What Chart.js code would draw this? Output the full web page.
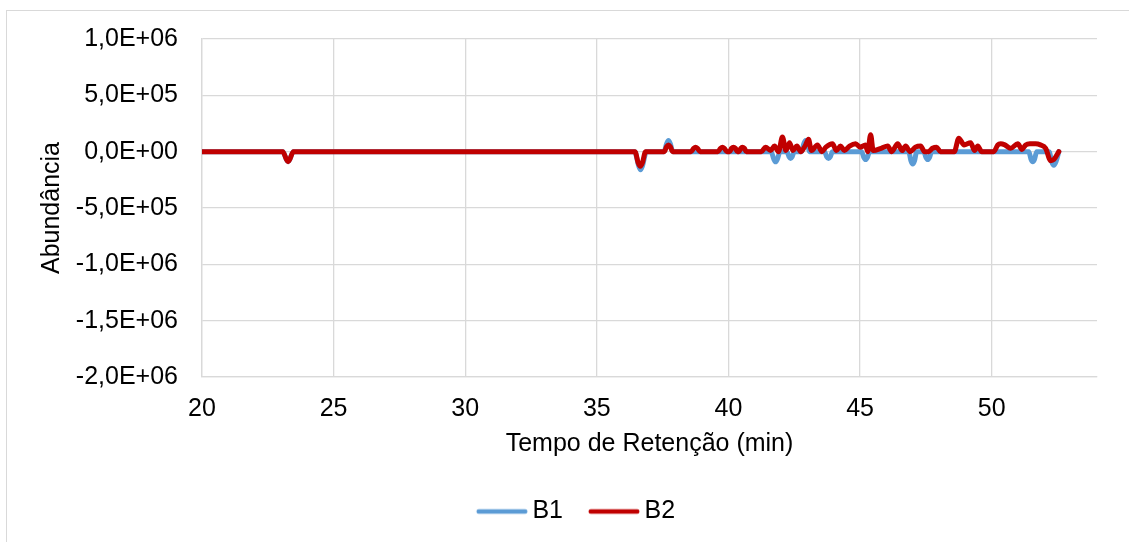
<!DOCTYPE html>
<html>
<head>
<meta charset="utf-8">
<script src="https://cdn.jsdelivr.net/npm/chart.js@4"></script>
<style>
  html, body { margin: 0; padding: 0; background: #fff; overflow: hidden; }
  #frame { position: absolute; left: 6px; top: 10px; width: 1300px; height: 700px; border: 1px solid #d9d9d9; }
  #wrap { position: absolute; left: 0; top: 0; width: 1129px; height: 542px; }
</style>
</head>
<body>
<div id="frame"></div>
<div id="wrap"><canvas id="chart"></canvas></div>
<script>
// ---------- DATA ----------

// B1 (blue)
const b1Time = [20,
  23.07, 23.2, 23.27, 23.34, 23.47,
  36.44, 36.58, 36.66, 36.74, 36.88,
  37.55, 37.65, 37.72, 37.79, 37.89,
  41.62, 41.72, 41.79, 41.86, 41.96,
  42.22, 42.3, 42.36, 42.42, 42.5,
  42.78, 42.86, 42.93, 43.0, 43.08,
  43.65, 43.73, 43.8, 43.87, 43.95,
  45.06, 45.14, 45.21, 45.28, 45.36,
  46.85, 46.93, 47.0, 47.07, 47.15,
  47.42, 47.5, 47.57, 47.64, 47.72,
  51.41, 51.49, 51.56, 51.63, 51.71,
  52.18, 52.28, 52.36, 52.44, 52.55];
const b1Abund = [0,
  0, -6.5e4, -9e4, -6.5e4, 0,
  0, -1.2e5, -1.6e5, -1.2e5, 0,
  0, 7e4, 1.0e5, 7e4, 0,
  0, -6.5e4, -9e4, -6.5e4, 0,
  0, -4.5e4, -6e4, -4.5e4, 0,
  0, 7e4, 1.0e5, 7e4, 0,
  0, -4.5e4, -6e4, -4.5e4, 0,
  0, -5e4, -7e4, -5e4, 0,
  0, -8e4, -1.1e5, -8e4, 0,
  0, -5e4, -7e4, -5e4, 0,
  0, -6.5e4, -9e4, -6.5e4, 0,
  0, -9e4, -1.2e5, -9e4, 0];

// B2 (red)
const b2Time = [20,
  23.07, 23.2, 23.27, 23.34, 23.47,
  36.45, 36.57, 36.65, 36.73, 36.85,
  37.56, 37.65, 37.72, 37.79, 37.88,
  38.58, 38.68, 38.75, 38.82, 38.92,
  39.6, 39.7, 39.77, 39.84, 39.94,
  40.04, 40.12, 40.19, 40.26, 40.34,
  40.4, 40.47, 40.53, 40.6, 40.68,
  41.25, 41.41, 41.6, 41.75, 41.9, 42.05, 42.18, 42.32, 42.45, 42.6, 42.75,
  42.93, 43.04, 43.15, 43.38, 43.55, 43.7, 43.95, 44.1, 44.26, 44.4, 44.6, 44.83,
  45.0, 45.2, 45.29, 45.4, 45.5, 45.8, 46.05, 46.2, 46.43, 46.6, 46.73, 46.9,
  47.1, 47.3, 47.45, 47.6, 47.75, 47.91, 48.05, 48.58, 48.75, 48.95, 49.2, 49.35, 49.47, 49.62,
  50.08, 50.23, 50.34, 50.5, 50.72, 50.99, 51.15, 51.29, 51.45, 51.67, 51.85, 52.05, 52.24, 52.36, 52.55];
const b2Abund = [0,
  0, -6.5e4, -9e4, -6.5e4, 0,
  0, -1e5, -1.3e5, -1e5, 0,
  0, 4.5e4, 6e4, 4.5e4, 0,
  0, 3e4, 4e4, 3e4, 0,
  0, 3e4, 4e4, 3e4, 0,
  0, 3e4, 4e4, 3e4, 0,
  0, 3e4, 4e4, 3e4, 0,
  0, 4e4, 1e4, 5e4, 0, 1.3e5, 1e4, 8e4, 1e4, 5e4, 0,
  6e4, 1.1e5, 1e4, 6e4, 0, 4e4, 7e4, 1e4, 5e4, 1e4, 5e4, 7e4,
  4e4, 6e4, 0, 1.5e5, 1e4, 3e4, 5e4, 0, 7e4, 1e4, 5e4, 0,
  4e4, 5e4, 0, 0, 3e4, 4e4, 0, 0, 1.2e5, 6e4, 8e4, 1e4, 5e4, 0,
  0, 6e4, 7e4, 6e4, 3e4, 7e4, 2e4, 6e4, 7e4, 7e4, 6e4, 3e4, -8e4, -7e4, 0];

const seriesNames = ['B1', 'B2'];
const xMin = 20, xMax = 54, xStep = 5;
const yMin = -2e6, yMax = 1e6, yStep = 5e5;

function toPoints(t, v) {
  return t.map((x, i) => ({ x: x, y: v[i] }));
}

// 1,0E+06 style labels
function sciLabel(v) {
  const parts = Number(v).toExponential(1).split('e');
  const e = parseInt(parts[1], 10);
  return parts[0].replace('.', ',') + 'E' + (e < 0 ? '-' : '+') + String(Math.abs(e)).padStart(2, '0');
}

// legend swatch: a short thick line, sitting close to its label
function swatch(color) {
  const c = document.createElement('canvas');
  c.width = 62;
  c.height = 10;
  const g = c.getContext('2d');
  g.strokeStyle = color;
  g.lineWidth = 4.5;
  g.lineCap = 'round';
  g.beginPath();
  g.moveTo(12.75, 5);
  g.lineTo(59.25, 5);
  g.stroke();
  return c;
}

// ---------- CHART ----------

const FONT = 'Liberation Sans, Arial, sans-serif';
const GRID = '#d9d9d9';

const legendShift = {
  id: 'legendShift',
  afterLayout(c) {
    c.legend.left += 16;
    c.legend.right += 16;
  }
};

var ctx = document.getElementById('chart').getContext('2d');
var chart = new Chart(ctx, {
  type: 'scatter',
  data: {
    datasets: [{
      label: seriesNames[0],
      data: toPoints(b1Time, b1Abund),
      showLine: true,
      borderColor: '#5b9bd5',
      backgroundColor: '#5b9bd5',
      borderWidth: 5,
      borderCapStyle: 'round',
      borderJoinStyle: 'round',
      cubicInterpolationMode: 'monotone',
      pointRadius: 0,
      pointStyle: swatch('#5b9bd5'),
      order: 2
    },
    {
      label: seriesNames[1],
      data: toPoints(b2Time, b2Abund),
      showLine: true,
      borderColor: '#c00000',
      backgroundColor: '#c00000',
      borderWidth: 5,
      borderCapStyle: 'round',
      borderJoinStyle: 'round',
      cubicInterpolationMode: 'monotone',
      pointRadius: 0,
      pointStyle: swatch('#c00000'),
      order: 1
    }]
  },
  options: {
    responsive: true,
    maintainAspectRatio: false,
    animation: false,
    layout: {
      padding: { left: 20, right: 32, top: 38, bottom: 8 }
    },
    plugins: {
      legend: {
        display: true,
        position: 'bottom',
        labels: {
          usePointStyle: true,
          pointStyleWidth: 46,
          padding: 23,
          color: '#000',
          font: { family: FONT, size: 25 },
          sort: (a, b) => a.datasetIndex - b.datasetIndex
        }
      },
      tooltip: { enabled: false }
    },
    scales: {
      x: {
        type: 'linear',
        min: xMin,
        max: xMax,
        afterFit: (s) => { s.height = 99; },
        grid: { color: GRID, lineWidth: 1.3, drawTicks: false },
        border: { color: GRID, width: 1.3 },
        ticks: {
          stepSize: xStep,
          includeBounds: false,
          padding: 17,
          color: '#000',
          font: { family: FONT, size: 25 }
        },
        title: {
          display: true,
          text: 'Tempo de Retenção (min)',
          color: '#000',
          font: { family: FONT, size: 25 },
          padding: { top: 0, bottom: 17 }
        }
      },
      y: {
        min: yMin,
        max: yMax,
        afterFit: (s) => { s.width = 182; },
        grid: { color: GRID, lineWidth: 1.3, drawTicks: false },
        border: { color: GRID, width: 1.3 },
        ticks: {
          stepSize: yStep,
          padding: 24,
          color: '#000',
          font: { family: FONT, size: 25 },
          callback: (v) => sciLabel(v)
        },
        title: {
          display: true,
          text: 'Abundância',
          color: '#000',
          font: { family: FONT, size: 25 },
          padding: { top: 17, bottom: 0 }
        }
      }
    }
  },
  plugins: [legendShift]
});
</script>
</body>
</html>
